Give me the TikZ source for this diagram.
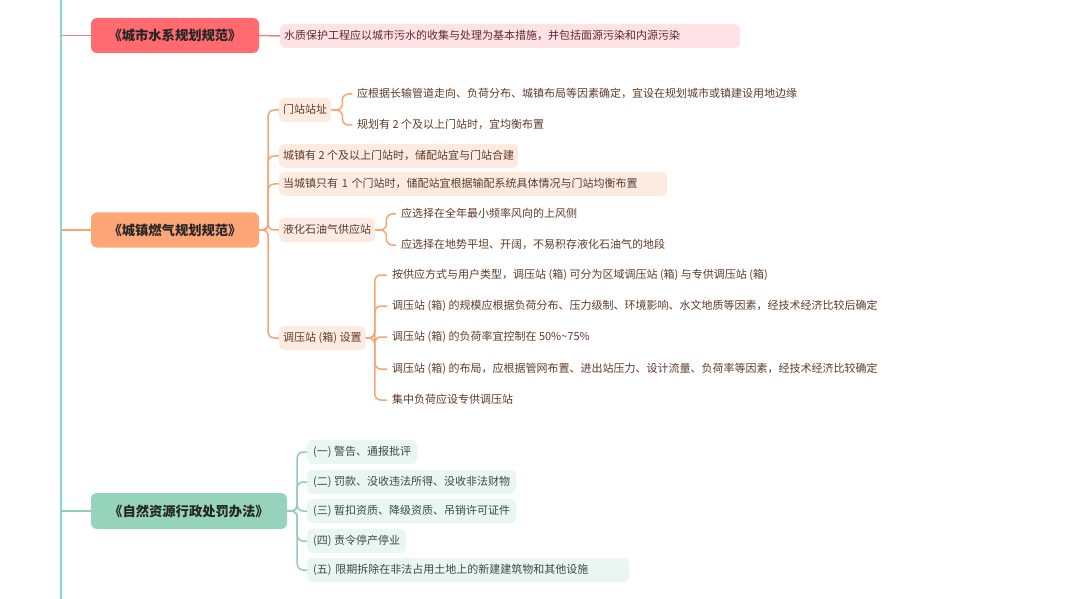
\documentclass[tikz,border=0pt]{standalone}
\usepackage{fontspec}
\setmainfont{Noto Sans CJK SC}
\definecolor{tealline}{HTML}{86D9D0}
\definecolor{redm}{HTML}{FF6B6E}
\definecolor{redline}{HTML}{EC8587}
\definecolor{pinkl}{HTML}{FFE2E5}
\definecolor{pinkt}{HTML}{5E2A31}
\definecolor{orm}{HTML}{FFA676}
\definecolor{orline}{HTML}{F7A672}
\definecolor{orl}{HTML}{FDEBE1}
\definecolor{ort}{HTML}{5C3B29}
\definecolor{grm}{HTML}{96D3BD}
\definecolor{grline}{HTML}{8FCDB8}
\definecolor{grl}{HTML}{EAF6F1}
\definecolor{grt}{HTML}{3C4944}
\begin{document}
\begin{tikzpicture}[x=1pt,y=-1pt,
  mainbox/.style={rounded corners=6pt, inner sep=0pt, font=\fontsize{13.3}{15}\selectfont\bfseries, text=black!85},
  leafbox/.style={rounded corners=5pt, anchor=west, minimum height=24pt, inner xsep=4pt, inner ysep=0pt, text height=8.5pt, text depth=2pt, font=\fontsize{11}{13}\selectfont, align=left},
  orleaf/.style={leafbox, fill=orl, text=ort},
  grleaf/.style={leafbox, inner xsep=6pt, fill=grl, text=grt},
  plainleaf/.style={anchor=west, inner xsep=5pt, inner ysep=0pt, text height=8.5pt, text depth=2pt, font=\fontsize{11}{13}\selectfont, text=ort},
  rline/.style={draw=redline, line width=1.5pt},
  oline/.style={draw=orline, line width=1.5pt, rounded corners=6pt},
  gline/.style={draw=grline, line width=1.5pt, rounded corners=6pt},
  tline/.style={draw=tealline, line width=1.6pt}
]
\useasboundingbox (0,0) rectangle (1080,599);

% trunk
\coordinate (ttop) at (61,0);
\coordinate (tbot) at (61,599);
\draw[tline] (ttop) -- (tbot);

% main nodes
\node[mainbox, fill=redm, minimum width=168pt, minimum height=35pt] (m1) at (175,35.5) {《城市水系规划规范》};
\node[mainbox, fill=orm, minimum width=168pt, minimum height=35pt] (m2) at (175,230) {《城镇燃气规划规范》};
\node[mainbox, fill=grm, minimum width=196pt, minimum height=36pt] (m3) at (189,511) {《自然资源行政处罚办法》};

\coordinate (t1) at (61,35.5);
\coordinate (t2) at (61,230);
\coordinate (t3) at (61,511);
\draw[rline] (t1) -- (m1.west);
\draw[draw=orline, line width=1.5pt] (t2) -- (m2.west);
\draw[draw=grline, line width=1.5pt] (t3) -- (m3.west);

% section 1
\node[leafbox, fill=pinkl, text=pinkt, text width=452pt] (p1) at (280,36) {水质保护工程应以城市污水的收集与处理为基本措施，并包括面源污染和内源污染};
\draw[rline] (m1.east) -- (p1.west);

% section 2
\node[orleaf] (o1) at (279,110) {门站站址};
\node[orleaf] (o2) at (279,156) {城镇有 2 个及以上门站时，储配站宜与门站合建};
\node[orleaf, text width=380pt] (o3) at (279,184) {当城镇只有 1 个门站时，储配站宜根据输配系统具体情况与门站均衡布置};
\node[orleaf] (o4) at (279,230) {液化石油气供应站};
\node[orleaf] (o5) at (279,338) {调压站 (箱) 设置};
\foreach \c in {o1,o2,o3,o4,o5} \draw[oline] (m2.east) -- ++(9,0) |- (\c.west);

\node[plainleaf] (o1a) at (352,94) {应根据长输管道走向、负荷分布、城镇布局等因素确定，宜设在规划城市或镇建设用地边缘};
\node[plainleaf] (o1b) at (352,125) {规划有 2 个及以上门站时，宜均衡布置};
\foreach \c in {o1a,o1b} \draw[oline] (o1.east) -- ++(11,0) |- (\c.west);

\node[plainleaf] (o4a) at (396,214) {应选择在全年最小频率风向的上风侧};
\node[plainleaf] (o4b) at (396,245) {应选择在地势平坦、开阔，不易积存液化石油气的地段};
\foreach \c in {o4a,o4b} \draw[oline] (o4.east) -- ++(11,0) |- (\c.west);

\node[plainleaf] (o5a) at (387,275) {按供应方式与用户类型，调压站 (箱) 可分为区域调压站 (箱) 与专供调压站 (箱)};
\node[plainleaf] (o5b) at (387,306) {调压站 (箱) 的规模应根据负荷分布、压力级制、环境影响、水文地质等因素，经技术经济比较后确定};
\node[plainleaf] (o5c) at (387,337) {调压站 (箱) 的负荷率宜控制在 50\%\char`\~75\%};
\node[plainleaf] (o5d) at (387,369) {调压站 (箱) 的布局，应根据管网布置、进出站压力、设计流量、负荷率等因素，经技术经济比较确定};
\node[plainleaf] (o5e) at (387,400) {集中负荷应设专供调压站};
\foreach \c in {o5a,o5b,o5c,o5d,o5e} \draw[oline] (o5.east) -- ++(9,0) |- (\c.west);

% section 3
\node[grleaf] (g1) at (307,452) {(一) 警告、通报批评};
\node[grleaf] (g2) at (307,482) {(二) 罚款、没收违法所得、没收非法财物};
\node[grleaf] (g3) at (307,511) {(三) 暂扣资质、降级资质、吊销许可证件};
\node[grleaf] (g4) at (307,541) {(四) 责令停产停业};
\node[grleaf, text width=310pt] (g5) at (307,570) {(五) 限期拆除在非法占用土地上的新建建筑物和其他设施};
\foreach \c in {g1,g2,g3,g4,g5} \draw[gline] (m3.east) -- ++(10,0) |- (\c.west);
\end{tikzpicture}
\end{document}
